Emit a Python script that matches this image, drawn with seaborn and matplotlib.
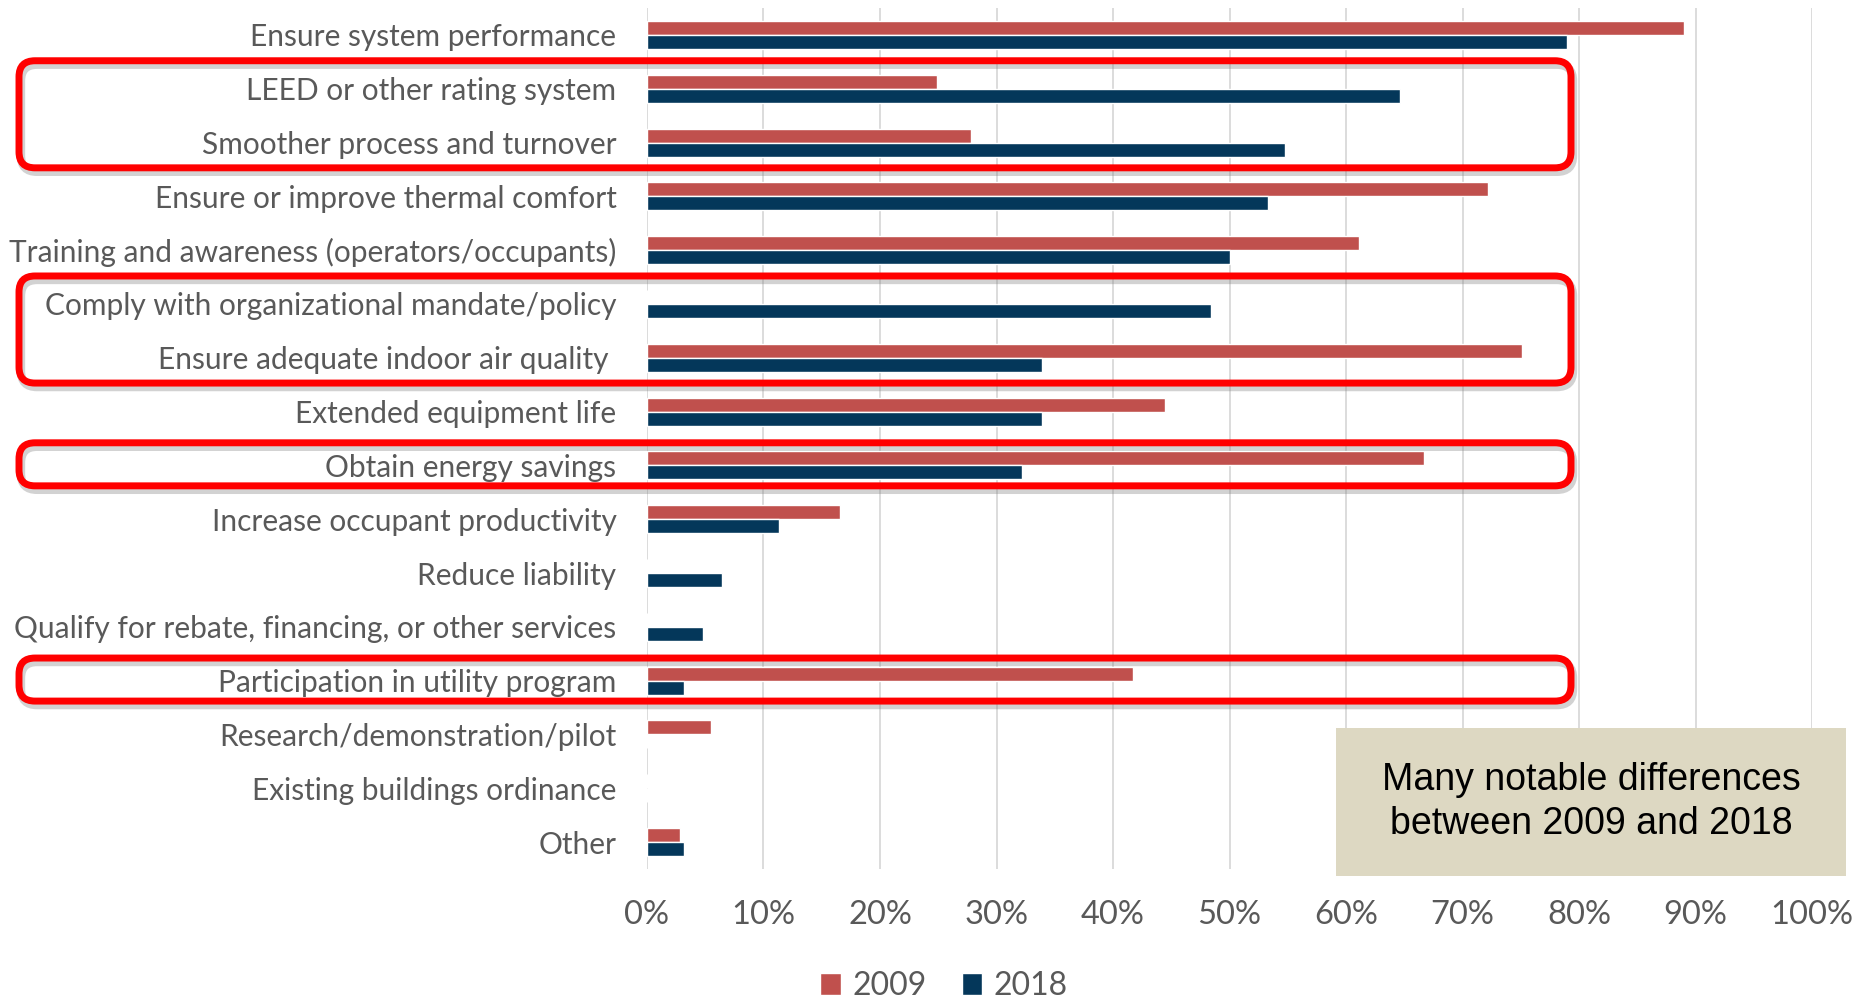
import numpy as np
import pandas as pd
import seaborn as sns
import matplotlib.pyplot as plt
from matplotlib.patches import FancyBboxPatch, Rectangle
from matplotlib.transforms import IdentityTransform

# categories, top to bottom
categories = [
    "Ensure system performance",
    "LEED or other rating system",
    "Smoother process and turnover",
    "Ensure or improve thermal comfort",
    "Training and awareness (operators/occupants)",
    "Comply with organizational mandate/policy",
    "Ensure adequate indoor air quality ",
    "Extended equipment life",
    "Obtain energy savings",
    "Increase occupant productivity",
    "Reduce liability",
    "Qualify for rebate, financing, or other services",
    "Participation in utility program",
    "Research/demonstration/pilot",
    "Existing buildings ordinance",
    "Other",
]
vals_2009 = [0.89, 0.249, 0.278, 0.722, 0.611, 0.0, 0.751, 0.445, 0.667, 0.166,
             0.0, 0.0, 0.417, 0.055, 0.0, 0.028]
vals_2018 = [0.79, 0.646, 0.548, 0.533, 0.50, 0.484, 0.339, 0.339, 0.322, 0.113,
             0.064, 0.048, 0.032, 0.0, 0.0, 0.032]
years = ["2009", "2018"]
xticks = np.arange(0, 1.01, 0.1)
xtick_labels = ["0%", "10%", "20%", "30%", "40%", "50%", "60%", "70%", "80%", "90%", "100%"]

# highlighted rows: (first, last) category
highlights = [
    ("LEED or other rating system", "Smoother process and turnover"),
    ("Comply with organizational mandate/policy", "Ensure adequate indoor air quality "),
    ("Obtain energy savings", "Obtain energy savings"),
    ("Participation in utility program", "Participation in utility program"),
]
note = "Many notable differences\nbetween 2009 and 2018"

df = pd.DataFrame({
    "reason": categories * 2,
    "share": vals_2009 + vals_2018,
    "year": [years[0]] * len(categories) + [years[1]] * len(categories),
})

sns.set_style("white")
plt.rcParams['font.family'] = ['Lato', 'DejaVu Sans']
gray = "#595959"

fig = plt.figure(figsize=(18.71, 10.01), dpi=100)
ax = fig.add_axes([0.3458, 0.1319, 0.6227, 0.8601])

sns.barplot(data=df, y="reason", x="share", hue="year", hue_order=years,
            order=categories, orient="h", palette=["#C0504D", "#04375A"],
            saturation=1, width=0.52, ax=ax)

ax.set_xlim(0, 1)
ax.set_xticks(xticks)
ax.set_xticklabels(xtick_labels)
ax.set_xlabel("")
ax.set_ylabel("")
ax.grid(axis="x", color="#D9D9D9", linewidth=1.3)
ax.set_axisbelow(True)
for s in ax.spines.values():
    s.set_visible(False)
ax.tick_params(axis="y", length=0, pad=22, labelsize=21.5, labelcolor=gray)
ax.tick_params(axis="x", length=0, pad=22, labelsize=23.5, labelcolor=gray)

handles, labels = ax.get_legend_handles_labels()
ax.get_legend().remove()
fig.legend(handles, labels, loc="center", bbox_to_anchor=(0.5045, 0.015), ncol=2,
           frameon=False, fontsize=23, labelcolor=gray, handlelength=0.65,
           handleheight=0.7, handletextpad=0.35, columnspacing=1.1)

# red rounded boxes around highlighted rows (pixel coords)
fig.canvas.draw()
x0, x1 = 19, 1571
for first, last in highlights:
    i0, i1 = categories.index(first), categories.index(last)
    pad_top, pad_bot = (0.52, 0.47) if i1 > i0 else (0.42, 0.38)
    y_top = ax.transData.transform((0, i0 - pad_top))[1]
    y_bot = ax.transData.transform((0, i1 + pad_bot))[1]
    for dx, dy, col, lw, al, z in [(2, -4, "#7F7F7F", 6, 0.35, 5), (0, 0, "#FF0000", 5, 1, 6)]:
        box = FancyBboxPatch((x0 + dx, y_bot + dy), x1 - x0, y_top - y_bot,
                             boxstyle="round,pad=0,rounding_size=16",
                             transform=IdentityTransform(), fill=False,
                             edgecolor=col, linewidth=lw, alpha=al, zorder=z)
        fig.add_artist(box)

# note box
fig.add_artist(Rectangle((0.714, 0.1249), 0.2726, 0.1478, transform=fig.transFigure,
                         facecolor="#DDD8C2", edgecolor="none", zorder=7))
fig.text(0.8504, 0.199, note, ha="center", va="center", fontsize=27,
         family=["Liberation Sans", "DejaVu Sans"], color="black",
         linespacing=1.27, zorder=8)

fig.savefig("out.png", dpi=100)
